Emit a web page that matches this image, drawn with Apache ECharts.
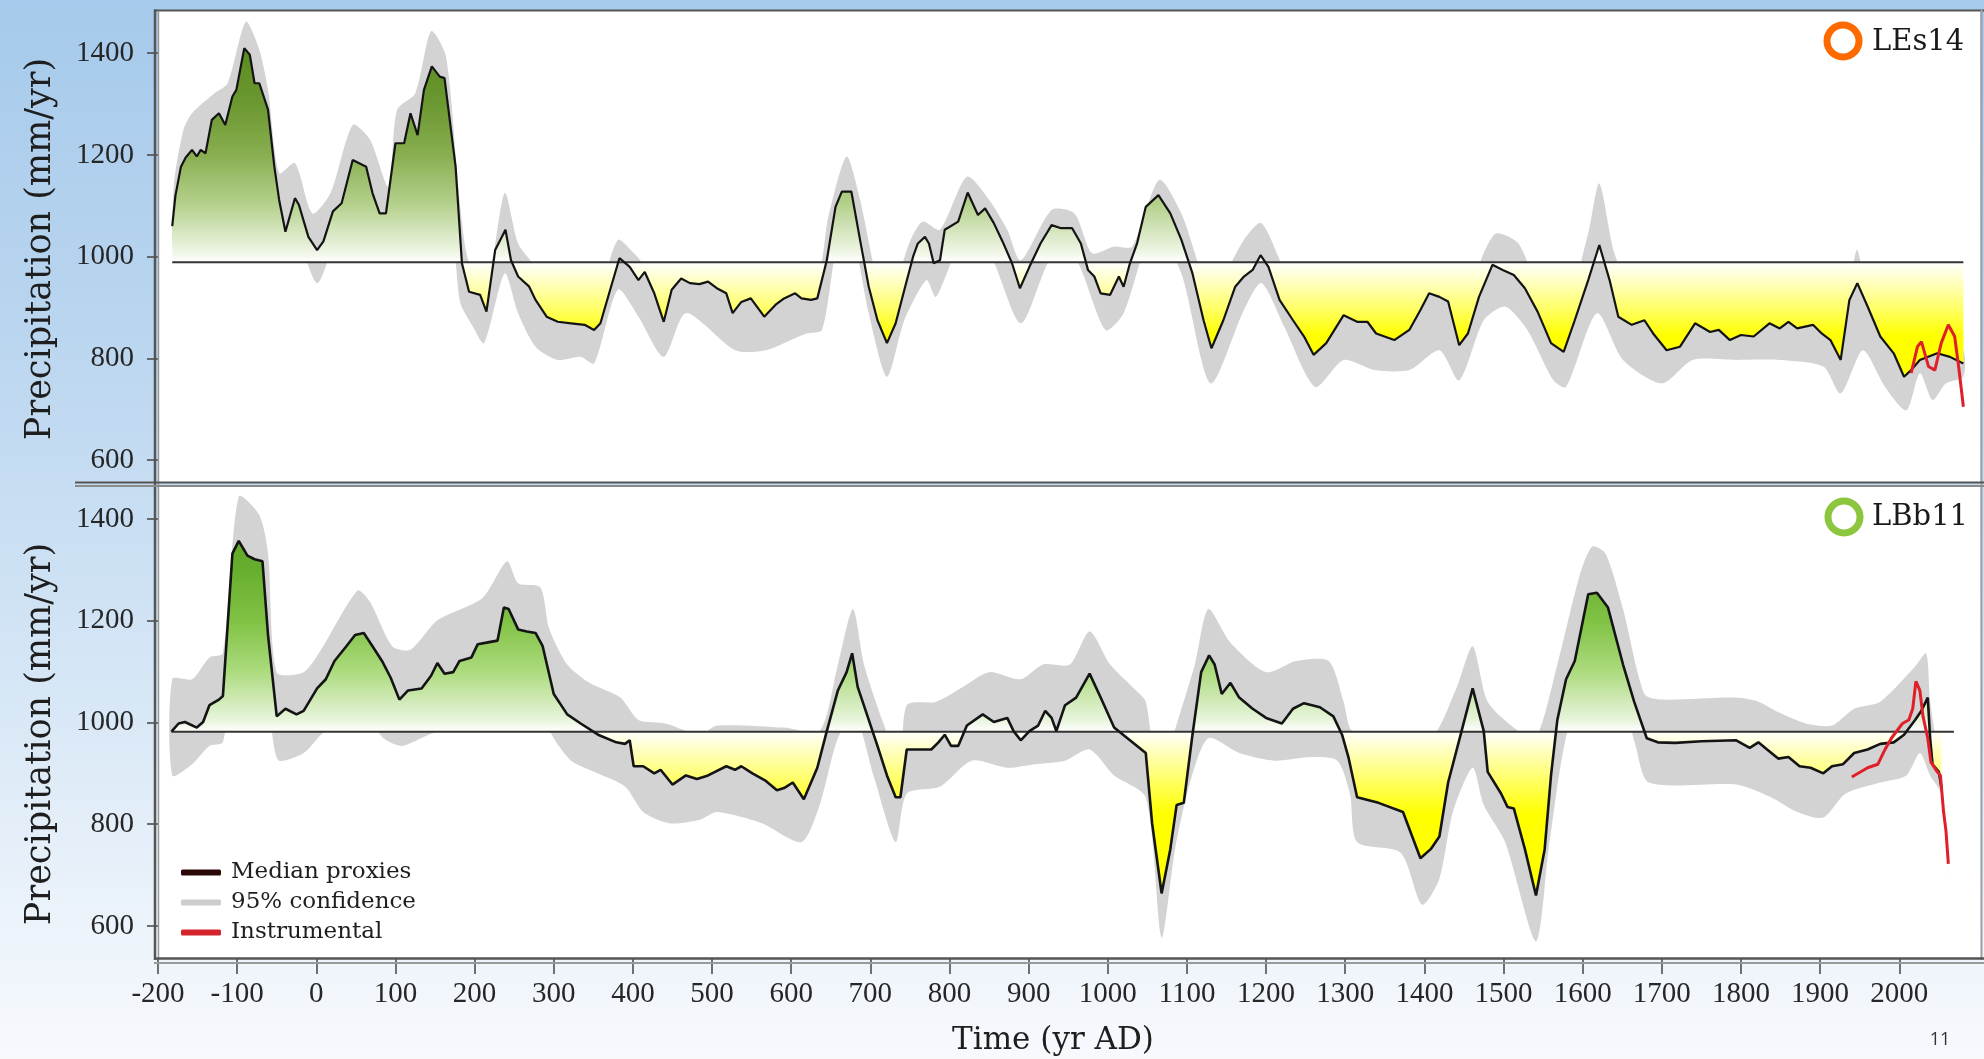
<!DOCTYPE html>
<html>
<head>
<meta charset="utf-8">
<script src="https://cdn.jsdelivr.net/npm/echarts@6/dist/echarts.min.js"></script>
<style>
html,body{margin:0;padding:0;}
body{width:1984px;height:1059px;overflow:hidden;
  background:linear-gradient(to bottom,#a6caeb 0%,#b9d5ef 30%,#d2e4f5 60%,#eaf2fa 85%,#f7f9fd 100%);}
#chart{width:1984px;height:1059px;}
</style>
</head>
<body>
<div id="chart"></div>
<script>
// ---------------- DATA ----------------
const xTicks = [-200,-100,0,100,200,300,400,500,600,700,800,900,1000,1100,1200,1300,1400,1500,1600,1700,1800,1900,2000];
const yTicks = [600,800,1000,1200,1400];

// Panel 1 : LEs14
const topLabel = 'LEs14';
const topBaseline = 989;
const topBaseYears = [-182, 2081];
const topYears = [-182,-178,-171,-165,-157,-151,-146,-140,-132,-123,
 -115,-106,-101,-91,-84,-78,-72,-61,-53,-47,
 -39,-27,-22,-10,1,9,21,32,46,63,
 71,80,88,100,111,119,128,136,146,156,
 162,176,184,193,207,215,226,239,246,255,
 269,277,291,305,322,339,351,359,370,383,
 396,407,415,427,439,449,461,472,484,495,
 506,518,526,537,549,566,580,591,605,613,
 625,633,645,656,664,676,687,698,709,721,
 732,743,754,760,769,774,780,788,794,811,
 823,836,845,856,867,879,889,901,915,929,
 941,955,966,975,983,991,1003,1014,1020,1028,
 1037,1048,1064,1079,1093,1107,1121,1131,1146,1161,
 1172,1183,1193,1203,1217,1234,1248,1260,1276,1298,
 1315,1328,1339,1362,1381,1395,1406,1419,1430,1444,
 1455,1469,1486,1499,1513,1527,1543,1560,1576,1590,
 1607,1621,1634,1645,1662,1678,1689,1706,1723,1742,
 1761,1772,1786,1800,1816,1836,1849,1860,1871,1891,
 1902,1913,1926,1937,1947,1960,1976,1993,2006,2015,
 2026,2048,2064,2081];
const topMedian = [1060,1120,1177,1195,1210,1197,1210,1203,1269,1282,
 1259,1315,1328,1410,1397,1341,1341,1289,1177,1112,
 1049,1115,1102,1039,1013,1030,1089,1105,1190,1177,
 1125,1085,1085,1223,1223,1282,1239,1328,1374,1354,
 1351,1177,987,931,925,892,1013,1053,993,961,
 941,915,882,872,869,866,856,869,928,997,
 980,954,970,928,872,935,957,948,946,951,
 938,928,889,911,918,882,905,918,928,918,
 915,918,993,1098,1128,1128,1033,941,875,830,
 869,935,1000,1026,1039,1026,987,993,1053,1069,
 1126,1082,1095,1066,1030,987,938,980,1026,1062,
 1056,1056,1026,974,961,928,925,961,941,987,
 1026,1098,1121,1085,1033,967,875,820,875,941,
 961,974,1003,980,915,875,843,807,830,885,
 872,872,849,836,856,895,928,921,912,826,
 849,921,984,974,964,938,892,830,813,875,
 954,1023,954,882,866,875,849,816,823,869,
 852,856,836,846,843,869,859,872,859,866,
 849,836,797,915,948,902,843,810,764,777,
 797,810,803,790];
const topInstrYears = [2015,2023,2028,2037,2045,2053,2062,2070,2075,2081];
const topInstr = [771,823,833,784,777,830,866,843,784,705];
const topUpperYears = [-180,-168,-157,-129,-112,-89,-72,-61,-47,-27,
 -5,18,46,68,91,102,125,145,164,181,
 192,215,238,255,277,305,334,356,381,401,
 435,460,506,563,630,647,670,687,709,721,
 749,766,788,822,850,873,890,929,958,980,
 1008,1031,1065,1093,1116,1132,1172,1194,1223,1262,
 1298,1353,1397,1430,1444,1475,1491,1519,1546,1574,
 1607,1621,1640,1667,1700,1739,1794,1849,1904,1926,
 1946,1960,1993,2015,2037,2059,2081];
const topUpper = [1140,1249,1282,1321,1341,1462,1407,1328,1164,1184,
 1085,1125,1259,1230,1138,1289,1321,1443,1393,1112,
 993,941,1125,1026,980,915,915,928,1033,1007,
 954,990,967,941,954,1079,1197,1112,948,895,
 1026,1069,1053,1157,1112,1053,993,1092,1085,1007,
 1020,1020,1151,1085,980,928,1033,1066,974,869,
 928,895,935,961,882,1007,1046,1026,928,875,
 1046,1144,1007,915,875,902,882,895,875,816,
 1013,935,849,816,823,843,816];
const topLowerYears = [-180,-157,-129,-89,-61,-47,-27,1,23,46,
 80,97,125,145,164,181,198,212,238,255,
 277,305,334,351,381,407,439,467,529,568,
 619,639,659,675,698,721,743,771,783,817,
 850,890,929,958,997,1020,1059,1093,1130,1172,
 1194,1223,1262,1298,1337,1381,1419,1444,1475,1502,
 1530,1563,1579,1618,1651,1700,1739,1794,1849,1904,
 1926,1954,1982,2009,2026,2042,2059,2081];
const topLower = [1020,1098,1157,1308,1243,1046,1046,948,1033,1138,
 1020,1112,1177,1282,1243,915,862,830,967,889,
 823,797,803,790,935,882,803,889,816,816,
 849,856,1033,1059,889,764,875,954,921,1033,
 1007,869,1000,1000,856,889,1059,967,751,895,
 948,862,744,797,777,777,816,757,875,902,
 856,757,744,889,797,751,797,797,797,784,
 731,816,744,698,771,718,751,764];

// Panel 2 : LBb11
const botLabel = 'LBb11';
const botBaseline = 982;
const botBaseYears = [-183, 2069];
const botYears = [-183,-174,-166,-151,-143,-135,-123,-118,-106,-98,
 -87,-78,-68,-61,-50,-39,-25,-16,1,12,
 23,38,49,60,71,83,94,105,116,133,
 145,153,162,173,181,196,204,215,229,237,
 243,255,266,277,286,300,317,334,356,379,
 390,396,401,413,427,435,450,467,481,495,
 518,529,537,551,568,582,591,602,616,633,
 645,659,670,677,684,698,709,721,732,738,
 746,777,786,794,802,811,822,842,856,873,
 881,890,901,912,921,929,935,946,960,977,
 991,1008,1028,1048,1056,1068,1079,1087,1096,1107,
 1118,1128,1135,1144,1155,1166,1183,1200,1220,1234,
 1248,1268,1285,1296,1304,1315,1342,1373,1395,1408,
 1419,1430,1447,1461,1475,1480,1497,1505,1513,1527,
 1541,1552,1560,1568,1579,1590,1607,1618,1632,1651,
 1665,1681,1695,1717,1750,1794,1811,1822,1833,1847,
 1860,1874,1888,1904,1915,1929,1943,1960,1976,1993,
 2006,2020,2028,2036,2039,2042,2050,2053];
const botMedian = [982,998,1001,990,1001,1034,1045,1052,1332,1357,
 1328,1321,1317,1172,1012,1027,1016,1023,1067,1085,
 1121,1150,1172,1176,1150,1121,1088,1045,1063,1067,
 1092,1117,1096,1099,1121,1128,1154,1157,1161,1226,
 1223,1183,1179,1176,1150,1056,1016,998,976,961,
 958,965,914,914,900,907,878,896,889,896,
 914,907,914,900,885,867,871,882,849,911,
 983,1063,1099,1136,1070,1005,954,896,853,853,
 947,947,961,976,954,954,994,1016,1001,1009,
 983,965,983,994,1023,1009,983,1034,1049,1096,
 1049,990,965,940,802,664,751,838,842,976,
 1099,1132,1114,1056,1078,1049,1027,1009,998,1027,
 1038,1030,1012,976,932,853,842,824,733,751,
 776,882,983,1067,983,903,860,834,831,751,
 660,751,896,1005,1085,1121,1252,1255,1226,1114,
 1041,969,961,960,963,965,950,961,947,929,
 932,914,911,900,914,918,940,947,958,961,
 976,1005,1023,1049,969,918,903,874];
const botInstrYears = [1940,1960,1973,1982,1990,2004,2012,2017,2021,2026,2030,2036,2040,2048,2052,2056,2059,2062];
const botInstr = [893,911,918,947,969,998,1005,1027,1081,1063,1012,969,922,903,896,824,787,722];
const botUpperYears = [-182,-157,-135,-118,-98,-72,-61,-50,-16,6,
 52,68,96,119,153,210,241,255,283,294,
 317,345,384,407,441,485,506,591,636,659,
 678,692,715,738,746,783,817,850,890,918,
 952,977,1003,1031,1048,1065,1082,1110,1127,1155,
 1200,1238,1279,1298,1309,1353,1408,1441,1461,1480,
 1519,1541,1568,1596,1612,1629,1651,1678,1700,1794,
 1822,1849,1882,1915,1943,1976,2020,2034,2039,2053,
 2064];
const botUpper = [1085,1085,1128,1136,1444,1408,1332,1099,1099,1143,
 1259,1237,1150,1143,1201,1245,1317,1274,1266,1186,
 1114,1078,1049,1005,998,976,994,990,983,1114,
 1223,1114,1005,918,1034,1041,1070,1099,1085,1114,
 1114,1179,1114,1070,1041,860,969,1114,1223,1157,
 1099,1121,1121,1041,983,976,969,1070,1150,1041,
 983,969,1114,1288,1346,1332,1223,1056,1045,1049,
 1041,1019,998,994,1027,1041,1110,1136,1041,896,
 686];
const botLowerYears = [-182,-157,-135,-118,-106,-84,-67,-55,-47,-16,
 6,35,63,85,108,142,181,221,243,277,
 300,322,351,390,413,446,485,506,563,613,
 636,659,681,704,732,746,788,828,873,907,
 946,977,1008,1048,1068,1085,1104,1127,1166,1211,
 1257,1290,1306,1315,1370,1397,1419,1436,1461,1475,
 1502,1541,1557,1574,1601,1618,1640,1667,1684,1794,
 1838,1871,1904,1932,1976,2009,2026,2039,2053,2064];
const botLower = [896,918,954,961,1099,1165,1150,969,925,940,
 976,1012,1012,969,954,976,998,1027,1070,1041,
 969,925,903,874,824,802,809,824,802,765,
 838,969,1012,896,765,860,874,925,911,918,
 925,947,896,853,577,751,882,969,940,925,
 932,925,860,765,744,642,693,824,911,838,
 765,570,751,932,1114,1172,1114,954,882,878,
 853,824,813,860,882,896,940,896,860,686];

const legendNames = ['Median proxies', '95% confidence', 'Instrumental'];
const xTitle = 'Time (yr AD)';
const yTitle = 'Precipitation (mm/yr)';
const pageNumber = '11';

// ---------------- STYLE / LAYOUT ----------------
const PLOT_L = 158, PLOT_W = 1822;
const X_MIN = -200, X_MAX = 2102;
const TOP = {top: 11, height: 471, min: 557, max: 1483};
const BOT = {top: 487, height: 471, min: 537, max: 1463};
const SERIF = "'Liberation Serif', 'Times New Roman', serif";
const SERIF2 = "'DejaVu Serif', serif";

const topFillAnchors = [[557,'#ffff00'],[845,'#ffff00'],[900,'#ffff6a'],[950,'#ffffc0'],[989,'#ffffff'],[1010,'#eef5e4'],[1100,'#b6d28f'],[1200,'#88ae50'],[1300,'#6c9832'],[1420,'#578a1c'],[1483,'#53841a']];
const botFillAnchors = [[537,'#ffff00'],[820,'#ffff00'],[890,'#ffff6a'],[945,'#ffffc0'],[982,'#ffffff'],[1005,'#e8f4dc'],[1100,'#acdb7e'],[1200,'#80c244'],[1300,'#68ae2e'],[1463,'#579c20']];

function ramp(anchors, min, max, n) {
  const rgb = h => [parseInt(h.slice(1,3),16), parseInt(h.slice(3,5),16), parseInt(h.slice(5,7),16)];
  const out = [];
  for (let i = 0; i < n; i++) {
    const v = min + (max - min) * i / (n - 1);
    let k = 0;
    while (k < anchors.length - 2 && v > anchors[k + 1][0]) k++;
    const v0 = anchors[k][0], v1 = anchors[k + 1][0];
    const a = rgb(anchors[k][1]), b = rgb(anchors[k + 1][1]);
    const t = Math.max(0, Math.min(1, (v - v0) / (v1 - v0)));
    out.push('rgb(' + a.map((x, j) => Math.round(x + (b[j] - x) * t)).join(',') + ')');
  }
  return out;
}
const zip = (xs, ys) => xs.map((x, i) => [x, ys[i]]);
const plain = v => String(v);

function bandSeries(idx, upX, upY, loX, loY) {
  return {
    type: 'custom', name: legendNames[1], xAxisIndex: idx, yAxisIndex: idx,
    data: [[upX[0], upY[0]]], encode: {x: 0, y: 1}, clip: true, silent: true, z: 1,
    itemStyle: {color: '#d3d3d3'},
    renderItem: function (params, api) {
      const pts = [];
      for (let i = 0; i < upX.length; i++) pts.push(api.coord([upX[i], upY[i]]));
      for (let i = loX.length - 1; i >= 0; i--) pts.push(api.coord([loX[i], loY[i]]));
      return {type: 'polygon', shape: {points: pts, smooth: 0.25}, style: {fill: '#d3d3d3'}};
    }
  };
}
function fillSeries(idx, xs, ys, base) {
  return {type: 'line', name: 'fill' + idx, xAxisIndex: idx, yAxisIndex: idx, data: zip(xs, ys),
    symbol: 'none', showSymbol: false, silent: true, z: 2, lineStyle: {width: 0},
    areaStyle: {origin: base, opacity: 1}};
}
function baseSeries(idx, years, base) {
  return {type: 'line', name: 'base' + idx, xAxisIndex: idx, yAxisIndex: idx,
    data: years.map(y => [y, base]), symbol: 'none', silent: true, z: 3,
    lineStyle: {color: '#333', width: 2}};
}
function medianSeries(idx, xs, ys, w) {
  return {type: 'line', name: legendNames[0], xAxisIndex: idx, yAxisIndex: idx, data: zip(xs, ys),
    symbol: 'none', silent: true, z: 4, lineStyle: {color: '#141414', width: w}};
}
function instrSeries(idx, xs, ys) {
  return {type: 'line', name: legendNames[2], xAxisIndex: idx, yAxisIndex: idx, data: zip(xs, ys),
    symbol: 'none', silent: true, z: 5, lineStyle: {color: '#e01f2a', width: 3}};
}
function yAxisOpt(idx, p) {
  return {type: 'value', gridIndex: idx, min: p.min, max: p.max, splitLine: {show: false},
    axisLine: {show: false, onZero: false},
    axisTick: {show: true, customValues: yTicks, length: 11, lineStyle: {color: '#444', width: 1.5}},
    axisLabel: {customValues: yTicks, formatter: plain, margin: 24, fontFamily: SERIF, fontSize: 29, color: '#262626'}};
}

const chart = echarts.init(document.getElementById('chart'), null, {renderer: 'canvas'});
const W = 1984;
const lineEl = (x1, y1, x2, y2, c, w) => ({type: 'line', z: 100, silent: true, shape: {x1, y1, x2, y2}, style: {stroke: c, lineWidth: w}});

chart.setOption({
  animation: false,
  backgroundColor: 'transparent',
  grid: [
    {left: PLOT_L, width: PLOT_W, top: TOP.top, height: TOP.height, show: true, backgroundColor: '#fff', borderWidth: 0},
    {left: PLOT_L, width: PLOT_W, top: BOT.top, height: BOT.height, show: true, backgroundColor: '#fff', borderWidth: 0}
  ],
  xAxis: [
    {type: 'value', gridIndex: 0, min: X_MIN, max: X_MAX, axisLine: {show: false, onZero: false}, axisTick: {show: false}, axisLabel: {show: false}, splitLine: {show: false}},
    {type: 'value', gridIndex: 1, min: X_MIN, max: X_MAX, axisLine: {show: false, onZero: false}, splitLine: {show: false},
     axisTick: {show: true, customValues: xTicks, length: 16, lineStyle: {color: '#444', width: 1.5}},
     axisLabel: {customValues: xTicks, formatter: plain, margin: 22, fontFamily: SERIF, fontSize: 29, color: '#262626'}}
  ],
  yAxis: [yAxisOpt(0, TOP), yAxisOpt(1, BOT)],
  visualMap: [
    {type: 'continuous', show: false, seriesIndex: 1, dimension: 1, min: TOP.min, max: TOP.max,
     inRange: {color: ramp(topFillAnchors, TOP.min, TOP.max, 190)}},
    {type: 'continuous', show: false, seriesIndex: 6, dimension: 1, min: BOT.min, max: BOT.max,
     inRange: {color: ramp(botFillAnchors, BOT.min, BOT.max, 190)}}
  ],
  legend: {
    orient: 'vertical', left: 176, top: 856, itemWidth: 40, itemHeight: 6, itemGap: 7,
    icon: 'roundRect', selectedMode: false,
    textStyle: {fontFamily: SERIF2, fontSize: 23, color: '#1e1e1e', padding: [0, 0, 0, 5]},
    data: [
      {name: legendNames[0], itemStyle: {color: '#2a0808'}},
      {name: legendNames[1], itemStyle: {color: '#cdcdcd'}},
      {name: legendNames[2], itemStyle: {color: '#d4232b'}}
    ]
  },
  series: [
    bandSeries(0, topUpperYears, topUpper, topLowerYears, topLower),
    fillSeries(0, topYears, topMedian, topBaseline),
    baseSeries(0, topBaseYears, topBaseline),
    medianSeries(0, topYears, topMedian, 2.2),
    instrSeries(0, topInstrYears, topInstr),
    bandSeries(1, botUpperYears, botUpper, botLowerYears, botLower),
    fillSeries(1, botYears, botMedian, botBaseline),
    baseSeries(1, botBaseYears, botBaseline),
    medianSeries(1, botYears, botMedian, 2.6),
    instrSeries(1, botInstrYears, botInstr)
  ],
  graphic: [
    lineEl(154, 10.5, W, 10.5, '#555', 2),
    lineEl(155, 9.5, 155, 960, '#555', 2.5),
    lineEl(158.5, 11, 158.5, 958, '#9a9a9a', 1.5),
    lineEl(1981.5, 10, 1981.5, 960, '#a0a0a0', 2),
    lineEl(75, 482.5, W, 482.5, '#555', 2),
    lineEl(75, 486, W, 486, '#8a8a8a', 2),
    lineEl(154, 958.5, W, 958.5, '#555', 2.5),
    lineEl(154, 963, W, 963, '#9a9a9a', 2),
    {type: 'circle', z: 100, shape: {cx: 1843, cy: 41, r: 16}, style: {fill: 'none', stroke: '#ff6a00', lineWidth: 7}},
    {type: 'text', z: 100, x: 1872, y: 42, style: {text: topLabel, font: "29px 'DejaVu Serif'", fill: '#1a1a1a', align: 'left', verticalAlign: 'middle'}},
    {type: 'circle', z: 100, shape: {cx: 1844, cy: 517, r: 16}, style: {fill: 'none', stroke: '#8cc63f', lineWidth: 7}},
    {type: 'text', z: 100, x: 1872, y: 517, style: {text: botLabel, font: "29px 'DejaVu Serif'", fill: '#1a1a1a', align: 'left', verticalAlign: 'middle'}},
    {type: 'text', z: 100, x: 41, y: 249, rotation: Math.PI / 2, style: {text: yTitle, font: "35px 'DejaVu Serif'", fill: '#1e1e1e', align: 'center', verticalAlign: 'middle'}},
    {type: 'text', z: 100, x: 41, y: 734, rotation: Math.PI / 2, style: {text: yTitle, font: "35px 'DejaVu Serif'", fill: '#1e1e1e', align: 'center', verticalAlign: 'middle'}},
    {type: 'text', z: 100, x: 1053, y: 1041, style: {text: xTitle, font: "31px 'DejaVu Serif'", fill: '#1e1e1e', align: 'center', verticalAlign: 'middle'}},
    {type: 'text', z: 100, x: 1940, y: 1040, style: {text: pageNumber, font: "18px 'Open Sans'", fill: '#333', align: 'center', verticalAlign: 'middle'}}
  ]
});
</script>
</body>
</html>
